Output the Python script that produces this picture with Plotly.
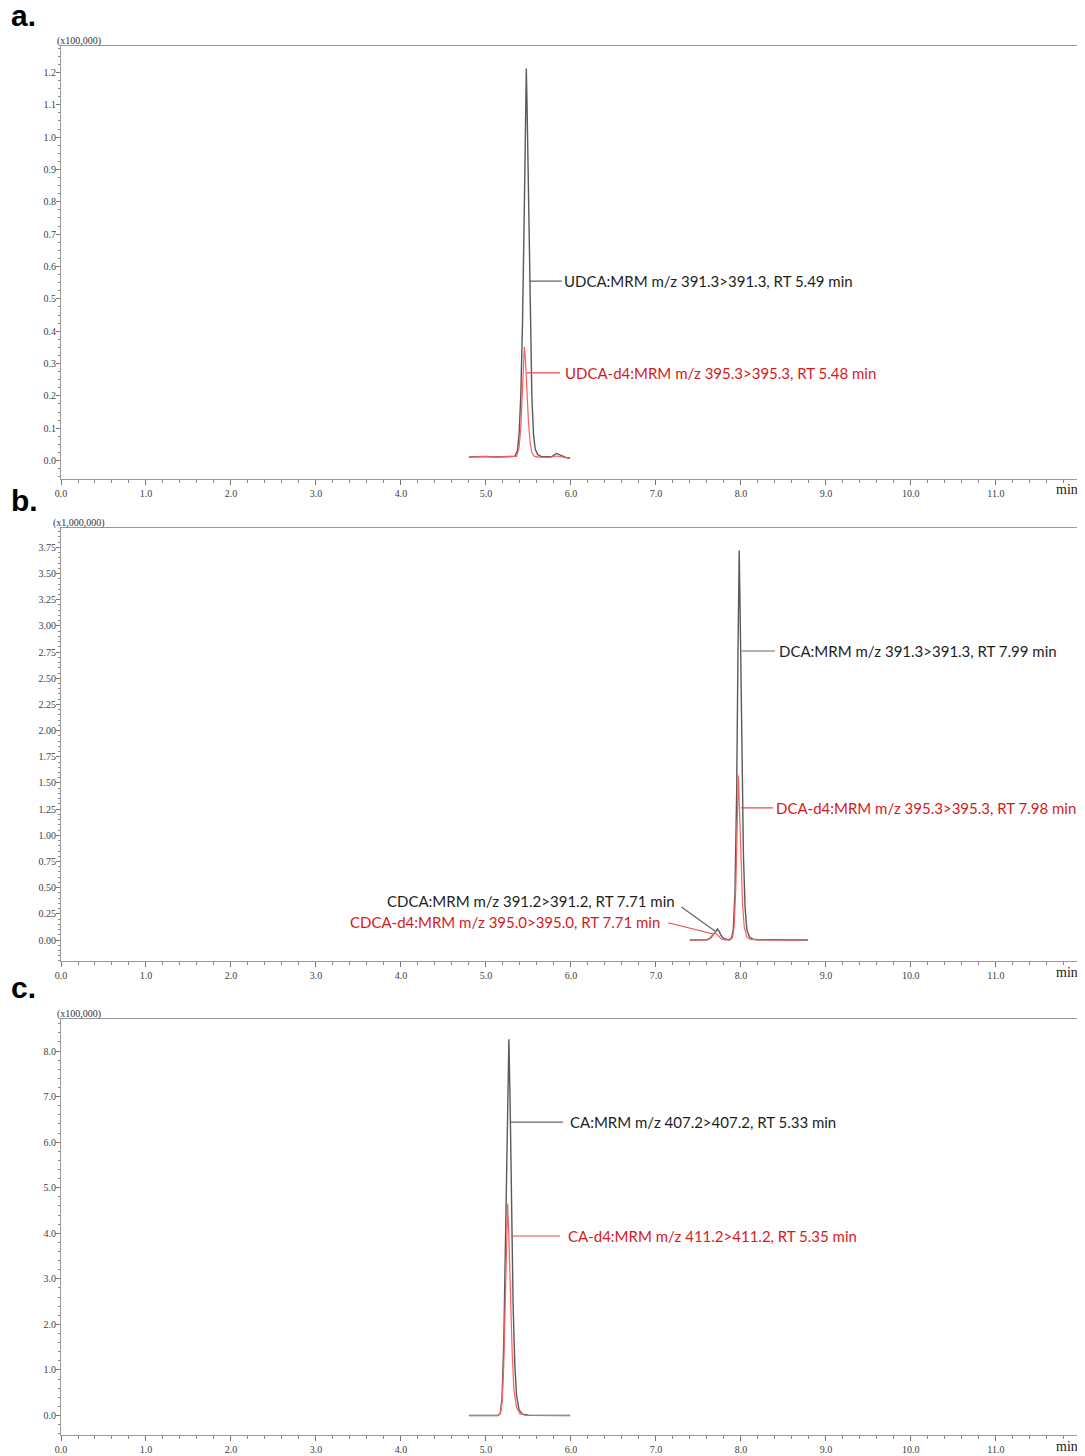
import plotly.graph_objects as go

# ---------------- data ----------------
# Panel a (x100,000)
a_black_x = [4.80, 4.90, 5.00, 5.10, 5.20, 5.30, 5.34, 5.37, 5.39, 5.41, 5.43, 5.45, 5.465, 5.475, 5.485, 5.50, 5.52, 5.54, 5.56, 5.58, 5.61, 5.65, 5.72, 5.78, 5.83, 5.88, 5.94, 5.99]
a_black_y = [0.011, 0.012, 0.013, 0.011, 0.012, 0.012, 0.013, 0.03, 0.08, 0.20, 0.42, 0.75, 1.05, 1.212, 1.08, 0.80, 0.45, 0.20, 0.08, 0.035, 0.018, 0.013, 0.012, 0.013, 0.022, 0.016, 0.010, 0.008]
a_red_x = [4.80, 4.90, 5.00, 5.10, 5.20, 5.30, 5.36, 5.39, 5.41, 5.43, 5.445, 5.452, 5.465, 5.48, 5.50, 5.52, 5.54, 5.57, 5.65, 5.75, 5.83, 5.88, 5.94, 5.99]
a_red_y = [0.011, 0.012, 0.012, 0.011, 0.012, 0.012, 0.013, 0.04, 0.10, 0.22, 0.33, 0.352, 0.31, 0.22, 0.12, 0.055, 0.025, 0.013, 0.010, 0.010, 0.014, 0.012, 0.008, 0.006]

# Panel b (x1,000,000)
b_black_x = [7.40, 7.50, 7.60, 7.64, 7.67, 7.70, 7.725, 7.745, 7.77, 7.80, 7.84, 7.86, 7.89, 7.91, 7.93, 7.95, 7.965, 7.98, 7.995, 8.01, 8.03, 8.05, 8.07, 8.10, 8.14, 8.20, 8.40, 8.60, 8.79]
b_black_y = [0.0, 0.0, 0.003, 0.015, 0.045, 0.085, 0.105, 0.08, 0.04, 0.012, 0.002, 0.0, 0.02, 0.10, 0.45, 1.4, 2.7, 3.72, 2.9, 1.8, 0.8, 0.3, 0.1, 0.03, 0.008, 0.002, 0.0, 0.0, 0.0]
b_red_x = [7.40, 7.50, 7.60, 7.63, 7.66, 7.69, 7.71, 7.74, 7.77, 7.81, 7.87, 7.90, 7.92, 7.94, 7.955, 7.97, 7.985, 8.00, 8.02, 8.04, 8.07, 8.11, 8.20, 8.40, 8.79]
b_red_y = [0.0, 0.0, 0.002, 0.012, 0.04, 0.07, 0.06, 0.03, 0.01, 0.002, 0.0, 0.02, 0.12, 0.5, 1.05, 1.57, 1.2, 0.75, 0.33, 0.12, 0.03, 0.005, 0.001, 0.0, 0.0]

# Panel c (x100,000)
c_black_x = [4.80, 4.90, 5.00, 5.10, 5.14, 5.17, 5.19, 5.21, 5.23, 5.25, 5.27, 5.285, 5.30, 5.32, 5.34, 5.36, 5.39, 5.43, 5.50, 5.70, 5.99]
c_black_y = [0.0, 0.0, 0.0, 0.0, 0.0, 0.05, 0.4, 1.6, 3.8, 6.5, 8.26, 6.8, 4.6, 2.4, 1.1, 0.45, 0.12, 0.03, 0.005, 0.0, 0.0]
c_red_x = [4.80, 4.90, 5.00, 5.10, 5.14, 5.17, 5.19, 5.21, 5.23, 5.245, 5.255, 5.27, 5.29, 5.31, 5.33, 5.36, 5.40, 5.46, 5.70, 5.99]
c_red_y = [0.0, 0.0, 0.0, 0.0, 0.0, 0.04, 0.3, 1.1, 2.6, 4.0, 4.65, 3.9, 2.5, 1.3, 0.55, 0.18, 0.04, 0.005, 0.0, 0.0]

# labels
a_labels = ["UDCA:MRM m/z 391.3>391.3, RT 5.49 min", "UDCA-d4:MRM m/z 395.3>395.3, RT 5.48 min"]
b_labels = ["DCA:MRM m/z 391.3>391.3, RT 7.99 min", "DCA-d4:MRM m/z 395.3>395.3, RT 7.98 min",
            "CDCA:MRM m/z 391.2>391.2, RT 7.71 min", "CDCA-d4:MRM m/z 395.0>395.0, RT 7.71 min"]
c_labels = ["CA:MRM m/z 407.2>407.2, RT 5.33 min", "CA-d4:MRM m/z 411.2>411.2, RT 5.35 min"]
scale_labels = ["(x100,000)", "(x1,000,000)", "(x100,000)"]
panel_letters = ["a.", "b.", "c."]

# ---------------- styling ----------------
W, H = 1085, 1456
OFF = 8  # page body margin
BLACK_LINE = "#5a5a5a"
RED_LINE = "#ff5c5c"
TXT_BLACK = "#1e1e1e"
TXT_RED = "#d7191c"
AX_COLOR = "#9a9a9a"
TICK_FONT = dict(family="Liberation Serif", size=10, color="#404040")
ANN_FONT = 15

def px_x(p):
    return (p - OFF) / W

def px_y(p):
    return 1 - (p - OFF) / H

x_dom = [px_x(61), px_x(1080)]
panels = [
    # (top px, bottom px, yrange, dtick, minor dtick, format)
    (46, 479, [-0.057, 1.2816], 0.1, 0.025, ".1f"),
    (528, 961, [-0.2006, 3.935], 0.25, 0.05, ".2f"),
    (1019, 1435, [-0.428, 8.703], 1.0, 0.2, ".1f"),
]

fig = go.Figure()

data = [
    (a_black_x, a_black_y, a_red_x, a_red_y),
    (b_black_x, b_black_y, b_red_x, b_red_y),
    (c_black_x, c_black_y, c_red_x, c_red_y),
]

for i, (bx, by, rx, ry) in enumerate(data):
    xa = "x" if i == 0 else f"x{i+1}"
    ya = "y" if i == 0 else f"y{i+1}"
    fig.add_trace(go.Scatter(x=bx, y=by, mode="lines", line=dict(color=BLACK_LINE, width=1.4),
                             xaxis=xa, yaxis=ya, showlegend=False, hoverinfo="skip"))
    fig.add_trace(go.Scatter(x=rx, y=ry, mode="lines", line=dict(color=RED_LINE, width=1.2),
                             xaxis=xa, yaxis=ya, showlegend=False, hoverinfo="skip"))

layout = dict(width=W, height=H, margin=dict(l=0, r=0, t=0, b=0, pad=0), template="none",
              paper_bgcolor="white", plot_bgcolor="white", showlegend=False)

for i, (top, bot, yr, dt, mdt, fmt) in enumerate(panels):
    xk = "xaxis" if i == 0 else f"xaxis{i+1}"
    yk = "yaxis" if i == 0 else f"yaxis{i+1}"
    ya_name = "y" if i == 0 else f"y{i+1}"
    xa_name = "x" if i == 0 else f"x{i+1}"
    layout[xk] = dict(domain=x_dom, anchor=ya_name, range=[0, 11.99], dtick=1.0, tick0=0,
                      tickformat=".1f", showgrid=False, zeroline=False, showline=True,
                      linecolor=AX_COLOR, linewidth=1, mirror=True, ticks="outside",
                      ticklen=5, tickcolor="#777777", tickfont=TICK_FONT, automargin=False,
                      minor=dict(dtick=0.2, ticklen=3, ticks="outside", tickcolor="#888888", showgrid=False),
                      fixedrange=True)
    layout[yk] = dict(domain=[px_y(bot), px_y(top)], anchor=xa_name, range=yr, dtick=dt, tick0=0,
                      tickformat=fmt, showgrid=False, zeroline=False, showline=True,
                      linecolor=AX_COLOR, linewidth=1, mirror=True, ticks="outside",
                      ticklen=4, tickcolor="#777777", tickfont=TICK_FONT, automargin=False,
                      ticklabelstandoff=-2,
                      minor=dict(dtick=mdt, ticklen=2, ticks="outside", tickcolor="#888888", showgrid=False),
                      fixedrange=True)

fig.update_layout(**layout)

annotations = []
shapes = []

# panel letters, scale labels, "min" labels
letter_y = [16, 500, 987]
for i in range(3):
    annotations.append(dict(xref="paper", yref="paper", x=px_x(9), y=px_y(letter_y[i]),
                            text="<b>" + panel_letters[i] + "</b>", showarrow=False,
                            xanchor="left", yanchor="middle",
                            font=dict(family="Liberation Sans", size=30, color="#000000")))
    top, bot = panels[i][0], panels[i][1]
    annotations.append(dict(xref="paper", yref="paper", x=px_x(79), y=px_y(top - 5),
                            text=scale_labels[i], showarrow=False, xanchor="center", yanchor="middle",
                            font=dict(family="Liberation Serif", size=10, color="#333333")))
    annotations.append(dict(xref="paper", yref="paper", x=px_x(1080), y=px_y(bot + 11),
                            text="min", showarrow=False, xanchor="right", yanchor="middle",
                            font=dict(family="Liberation Serif", size=14, color="#222222")))

def label(xa, ya, x0, y0, x1, y1, tx, ty, text, color, lcolor, anchor="left"):
    shapes.append(dict(type="line", xref=xa, yref=ya, x0=x0, y0=y0, x1=x1, y1=y1,
                       line=dict(color=lcolor, width=1.2)))
    annotations.append(dict(xref=xa, yref=ya, x=tx, y=ty, text=text, showarrow=False,
                            xanchor=anchor, yanchor="middle",
                            font=dict(family="Lato", size=ANN_FONT, color=color)))

# panel a
label("x", "y", 5.506, 0.555, 5.894, 0.555, 5.90, 0.555, a_labels[0], TXT_BLACK, "#666666")
label("x", "y", 5.48, 0.271, 5.87, 0.271, 5.91, 0.271, a_labels[1], TXT_RED, "#e84a4a")
# panel b
label("x2", "y2", 8.01, 2.76, 8.40, 2.76, 8.43, 2.76, b_labels[0], TXT_BLACK, "#666666")
label("x2", "y2", 8.00, 1.261, 8.376, 1.261, 8.39, 1.261, b_labels[1], TXT_RED, "#e84a4a")
label("x2", "y2", 7.30, 0.315, 7.694, 0.086, 7.243, 0.375, b_labels[2], TXT_BLACK, "#666666", anchor="right")
label("x2", "y2", 7.145, 0.165, 7.674, 0.057, 7.066, 0.175, b_labels[3], TXT_RED, "#e84a4a", anchor="right")
# panel c
label("x3", "y3", 5.294, 6.44, 5.906, 6.44, 5.96, 6.44, c_labels[0], TXT_BLACK, "#666666")
label("x3", "y3", 5.294, 3.94, 5.87, 3.94, 5.94, 3.94, c_labels[1], TXT_RED, "#e84a4a")

fig.update_layout(annotations=annotations, shapes=shapes)

fig.write_html("out.html")
